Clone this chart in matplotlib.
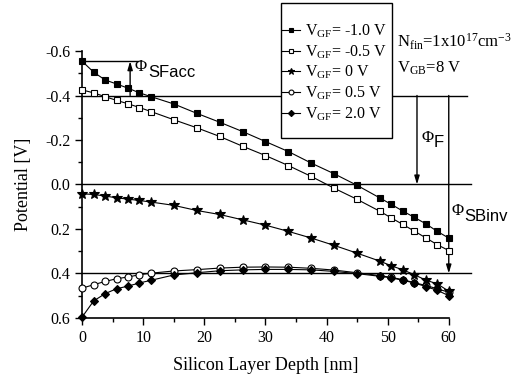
import numpy as np
import matplotlib
matplotlib.use("Agg")
import matplotlib.pyplot as plt
from matplotlib.patches import Rectangle
from matplotlib.ticker import MultipleLocator, FixedLocator

plt.rcParams["font.family"] = ["Liberation Serif", "DejaVu Serif"]
plt.rcParams["mathtext.fontset"] = "custom"
plt.rcParams["mathtext.rm"] = "Liberation Serif"
plt.rcParams["mathtext.it"] = "Liberation Serif"
plt.rcParams["mathtext.sf"] = "Liberation Sans"
plt.rcParams["xtick.direction"] = "out"
plt.rcParams["ytick.direction"] = "out"

# depth [nm]
depth = [0, 1.875, 3.75, 5.625, 7.5, 9.375, 11.25, 15, 18.75, 22.5, 26.25, 30,
         33.75, 37.5, 41.25, 45, 48.75, 50.625, 52.5, 54.375, 56.25, 58.125, 60]

# potential [V] for each front gate voltage
vgf_m10 = [-0.554, -0.505, -0.47, -0.452, -0.433, -0.412, -0.395, -0.362, -0.32, -0.28,
           -0.238, -0.193, -0.148, -0.096, -0.048, 0.004, 0.061, 0.09, 0.12, 0.148,
           0.177, 0.211, 0.241]
vgf_m05 = [-0.425, -0.412, -0.395, -0.378, -0.363, -0.346, -0.328, -0.291, -0.255, -0.216,
           -0.172, -0.13, -0.085, -0.036, 0.017, 0.067, 0.121, 0.151, 0.18, 0.21,
           0.24, 0.271, 0.297]
vgf_0 = [0.042, 0.045, 0.052, 0.06, 0.066, 0.072, 0.079, 0.094, 0.117, 0.135,
         0.159, 0.183, 0.211, 0.241, 0.274, 0.309, 0.345, 0.366, 0.384, 0.406,
         0.43, 0.447, 0.48]
vgf_05 = [0.466, 0.451, 0.436, 0.424, 0.416, 0.406, 0.399, 0.389, 0.383, 0.376,
          0.372, 0.371, 0.372, 0.377, 0.385, 0.397, 0.41, 0.418, 0.428, 0.442,
          0.454, 0.469, 0.485]
vgf_20 = [0.596, 0.524, 0.491, 0.469, 0.457, 0.443, 0.431, 0.407, 0.397, 0.388,
          0.384, 0.382, 0.382, 0.384, 0.391, 0.401, 0.413, 0.42, 0.431, 0.443,
          0.459, 0.476, 0.5]

labels = [r"$\mathrm{V_{GF}}$= -1.0 V", r"$\mathrm{V_{GF}}$= -0.5 V", r"$\mathrm{V_{GF}}$= 0 V",
          r"$\mathrm{V_{GF}}$= 0.5 V", r"$\mathrm{V_{GF}}$= 2.0 V"]

# reference levels
phi_acc = -0.554
levels = [-0.4, 0.0, 0.4]

fig = plt.figure(figsize=(5.2, 3.78), dpi=100)
ax = fig.add_axes([0.158, 0.159, 0.705, 0.706])

styles = [
    dict(marker="s", mfc="black", ms=5, zorder=3.5),
    dict(marker="s", mfc="white", ms=5, zorder=3.4),
    dict(marker="*", mfc="black", ms=7, zorder=3.3),
    dict(marker="o", mfc="white", ms=5, zorder=3.1),
    dict(marker="D", mfc="black", ms=4.5, zorder=3.2),
]
for vals, lab, st in zip([vgf_m10, vgf_m05, vgf_0, vgf_05, vgf_20], labels, styles):
    ax.plot(depth, vals, color="black", lw=0.8, mec="black", mew=0.8, label=lab,
            clip_on=False, **st)

# horizontal reference lines
ax.plot([0, 63.0], [levels[0], levels[0]], color="black", lw=1, clip_on=False, zorder=2)
ax.plot([0, 63.7], [levels[1], levels[1]], color="black", lw=1, clip_on=False, zorder=2)
ax.plot([0, 63.7], [levels[2], levels[2]], color="black", lw=1, clip_on=False, zorder=2)
ax.plot([0, 9.2], [phi_acc, phi_acc], color="black", lw=1, clip_on=False, zorder=2)

arrow = dict(arrowstyle="-|>,head_length=0.5,head_width=0.15", color="black", lw=1,
             shrinkA=0, shrinkB=0)
for xa, y0, y1 in [(7.85, -0.4, phi_acc), (54.8, -0.4, 0.0), (60, -0.4, 0.4)]:
    an = ax.annotate("", xy=(xa, y1), xytext=(xa, y0), arrowprops=arrow, annotation_clip=False)
    an.set_zorder(2)

# Φ labels
ax.text(8.6, -0.53, "Φ", fontsize=12, va="center", ha="left")
ax.text(10.9, -0.503, "SFacc", fontsize=12, family="Liberation Sans", va="center", ha="left")
ax.text(55.6, -0.21, "Φ", fontsize=12, va="center", ha="left", clip_on=False)
ax.text(57.6, -0.19, "F", fontsize=12, family="Liberation Sans", va="center", ha="left", clip_on=False)
ax.text(60.5, 0.121, "Φ", fontsize=12, va="center", ha="left", clip_on=False)
ax.text(62.5, 0.146, "SBinv", fontsize=12, family="Liberation Sans", va="center", ha="left", clip_on=False)

ax.text(0.858, 1.034, r"$\mathrm{N_{fin}}$=1x10$^{17}$cm$^{-3}$", transform=ax.transAxes,
        fontsize=12, va="center", ha="left")
ax.text(0.858, 0.936, r"$\mathrm{V_{GB}}$=8 V", transform=ax.transAxes,
        fontsize=12, va="center", ha="left")

ax.set_xlim(0, 60)
ax.set_ylim(0.6, -0.6)
ax.xaxis.set_major_locator(MultipleLocator(10))
ax.xaxis.set_minor_locator(MultipleLocator(5))
ax.yaxis.set_major_locator(FixedLocator([-0.6, -0.4, -0.2, 0.0, 0.2, 0.4, 0.6]))
ax.yaxis.set_minor_locator(MultipleLocator(0.1))
ax.set_yticklabels(["-0.6", "-0.4", "-0.2", "0.0", "0.2", "0.4", "0.6"])
ax.tick_params(which="major", length=5, width=1, labelsize=11.5)
ax.tick_params(which="minor", length=3, width=1)
for s in ["top", "right"]:
    ax.spines[s].set_visible(False)
for s in ["left", "bottom"]:
    ax.spines[s].set_linewidth(1.2)

ax.set_xlabel("Silicon Layer Depth [nm]", fontsize=13, labelpad=8)
ax.set_ylabel("Potential [V]", fontsize=13)
ax.yaxis.set_label_coords(-0.138, 0.5)

# legend box drawn by hand, entries without frame
box = Rectangle((281 / 520, 1 - 138 / 378), 111 / 520, 135 / 378, transform=fig.transFigure,
                facecolor="white", edgecolor="black", lw=1, clip_on=False, zorder=4)
ax.add_patch(box)
leg = ax.legend(loc="upper left", bbox_to_anchor=(0.546, 1.108), fontsize=11.5,
                frameon=False, handlelength=1.1, handletextpad=0.35, labelspacing=0.22,
                borderpad=0, borderaxespad=0, markerscale=0.7)
leg.set_zorder(5)

fig.savefig("out.png", dpi=100)
